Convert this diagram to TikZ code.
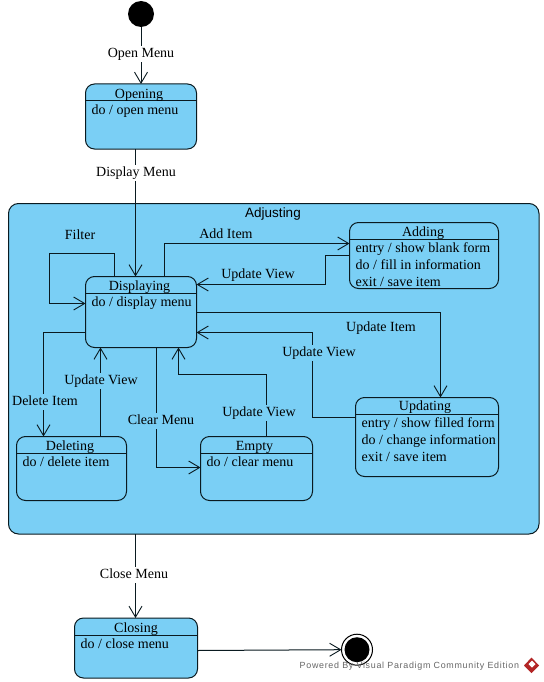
\documentclass[tikz,border=0pt]{standalone}
\usepackage{fontspec}
\setmainfont{Liberation Serif}
\newfontfamily\wmfont{Liberation Sans}
\usetikzlibrary{arrows.meta}
\definecolor{stfill}{HTML}{7ACFF5}
\definecolor{stline}{HTML}{0A1A20}
\tikzset{
  x=1pt,y=-1pt,
  every node/.style={font=\fontsize{14}{16}\selectfont},
  statebox/.style={draw=stline,fill=stfill,line width=1pt,rounded corners=9pt,inner sep=0pt,outer sep=0pt,anchor=north west},
  conn/.style={draw=stline,line width=1pt},
  arr/.style={conn,-{Straight Barb[length=11pt,width=13pt,line width=0.9pt]}},
  divider/.style={draw=stline,line width=1pt},
  txt/.style={text height=10pt,text depth=3pt},
  title/.style={txt,inner sep=0pt,anchor=center},
  body/.style={txt,inner sep=0pt,anchor=west,yshift=-0.8pt},
  lbln/.style={txt,inner sep=0pt,anchor=center},
  lblw/.style={txt,fill=white,inner sep=1.5pt,anchor=center},
  lblb/.style={txt,fill=stfill,inner sep=1.5pt,anchor=center},
}
\begin{document}
\begin{tikzpicture}
\useasboundingbox (0,0) rectangle (543,682);
\fill[white] (0,0) rectangle (543,682);

% composite state
\node[statebox,minimum width=530.5pt,minimum height=330.5pt,rounded corners=10pt] (adj) at (8.5,203.5) {};
\node[title,font=\wmfont\fontsize{13.5}{16}\selectfont] (adjt) at (273,214) {Adjusting};

% states
\node[statebox,minimum width=111pt,minimum height=65pt] (op) at (85.5,84) {};
\node[statebox,minimum width=111pt,minimum height=71pt] (disp) at (85.5,276.5) {};
\node[statebox,minimum width=149pt,minimum height=66pt] (add) at (349.5,222.5) {};
\node[statebox,minimum width=143pt,minimum height=79pt] (upd) at (355.5,397.5) {};
\node[statebox,minimum width=110pt,minimum height=64pt] (del) at (16.5,436.5) {};
\node[statebox,minimum width=112pt,minimum height=64pt] (emp) at (200.5,436.5) {};
\node[statebox,minimum width=123pt,minimum height=60pt] (clo) at (74.5,618) {};

% pseudo states
\node[circle,fill=black,minimum size=26pt,inner sep=0pt,outer sep=0pt] (init) at (141,14) {};
\node[circle,draw=black,fill=white,line width=1pt,minimum size=31pt,inner sep=0pt,outer sep=0pt] (fin) at (357,649.7) {};
\node[circle,fill=black,minimum size=25pt,inner sep=0pt] (fini) at (357,649.7) {};

% dividers
\draw[divider] ([yshift=-17pt]op.north west) -- ([yshift=-17pt]op.north east);
\draw[divider] ([yshift=-16.5pt]disp.north west) -- ([yshift=-16.5pt]disp.north east);
\draw[divider] ([yshift=-17pt]add.north west) -- ([yshift=-17pt]add.north east);
\draw[divider] ([yshift=-17pt]upd.north west) -- ([yshift=-17pt]upd.north east);
\draw[divider] ([yshift=-17pt]del.north west) -- ([yshift=-17pt]del.north east);
\draw[divider] ([yshift=-17pt]emp.north west) -- ([yshift=-17pt]emp.north east);
\draw[divider] ([yshift=-17pt]clo.north west) -- ([yshift=-17pt]clo.north east);

% state texts
\node[title] (opt) at (139,95) {Opening};
\node[body] (opb) at (91.5,110) {do / open menu};
\node[title] (dispt) at (139.5,287) {Displaying};
\node[body] (dispb) at (91.5,302.5) {do / display menu};
\node[title] (addt) at (423,233) {Adding};
\node[body] (add1) at (355.5,248) {entry / show blank form};
\node[body] (add2) at (355.5,265) {do / fill in information};
\node[body] (add3) at (355.5,282) {exit / save item};
\node[title] (updt) at (425,406.5) {Updating};
\node[body] (upd1) at (361.5,423) {entry / show filled form};
\node[body] (upd2) at (361.5,440) {do / change information};
\node[body] (upd3) at (361.5,457) {exit / save item};
\node[title] (delt) at (70,447) {Deleting};
\node[body] (delb) at (22.5,462) {do / delete item};
\node[title] (empt) at (254.5,447) {Empty};
\node[body] (empb) at (206.5,462) {do / clear menu};
\node[title] (clot) at (136,629) {Closing};
\node[body] (clob) at (80.5,644) {do / close menu};

% connectors
\draw[arr] (init) -- (op.north -| init);
\draw[arr] ([xshift=50pt]op.south west) -- ([xshift=50pt]disp.north west);
\draw[arr] ([xshift=29pt]disp.north west) |- (49.5,253.5) |- ([yshift=-27pt]disp.north west);
\draw[arr] ([xshift=79pt]disp.north west) |- ([yshift=-21pt]add.north west);
\draw[arr] ([yshift=-33pt]add.north west) -| (325.5,284.5) -- ([yshift=-8pt]disp.north east);
\draw[arr] ([yshift=-36pt]disp.north east) -| (upd.north -| 440.5,0);
\draw[arr] ([yshift=-20pt]upd.north west) -| (312.5,332.5) -- ([yshift=-56pt]disp.north east);
\draw[arr] ([yshift=-56pt]disp.north west) -| (del.north -| 43.5,0);
\draw[arr] ([xshift=84pt]del.north west) -- ([xshift=15pt]disp.south west);
\draw[arr] ([xshift=71pt]disp.south west) |- ([yshift=-31pt]emp.north west);
\draw[arr] ([xshift=66pt]emp.north west) |- (178.5,374.5) -- ([xshift=93pt]disp.south west);
\draw[arr] ([xshift=127pt]adj.south west) -- ([xshift=61pt]clo.north west);
\draw[arr] ([yshift=-32.5pt]clo.north east) -- (fin.west);

% connector labels
\node[lblw] (l1) at (141,54) {Open Menu};
\node[lblw] (l2) at (136,172.5) {Display Menu};
\node[lbln] (l3) at (80,235.5) {Filter};
\node[lbln] (l4) at (226,234.5) {Add Item};
\node[lbln] (l5) at (258,274.5) {Update View};
\node[lbln] (l6) at (381,328) {Update Item};
\node[lblb] (l7) at (319,352.5) {Update View};
\node[lblb] (l8) at (45,401.5) {Delete Item};
\node[lblb] (l9) at (101,381) {Update View};
\node[lblb] (l10) at (161,421) {Clear Menu};
\node[lblb] (l11) at (259,412.5) {Update View};
\node[lblw] (l12) at (134,574.5) {Close Menu};

% watermark
\node[inner sep=0pt,anchor=west,text=black!60,font=\wmfont\fontsize{8.9}{10}\selectfont,align=left] (wm) at (299.5,666) {\addfontfeature{LetterSpace=8}Powered By Visual Paradigm Community Edition};
\fill[red!65!black!85] (531.5,657.5) -- (539,665.5) -- (531.5,673) -- (524,665.5) -- cycle;
\fill[white] (532,660.5) -- (535.5,664) -- (532,667.5) -- (528.5,664) -- cycle;
\end{tikzpicture}
\end{document}
